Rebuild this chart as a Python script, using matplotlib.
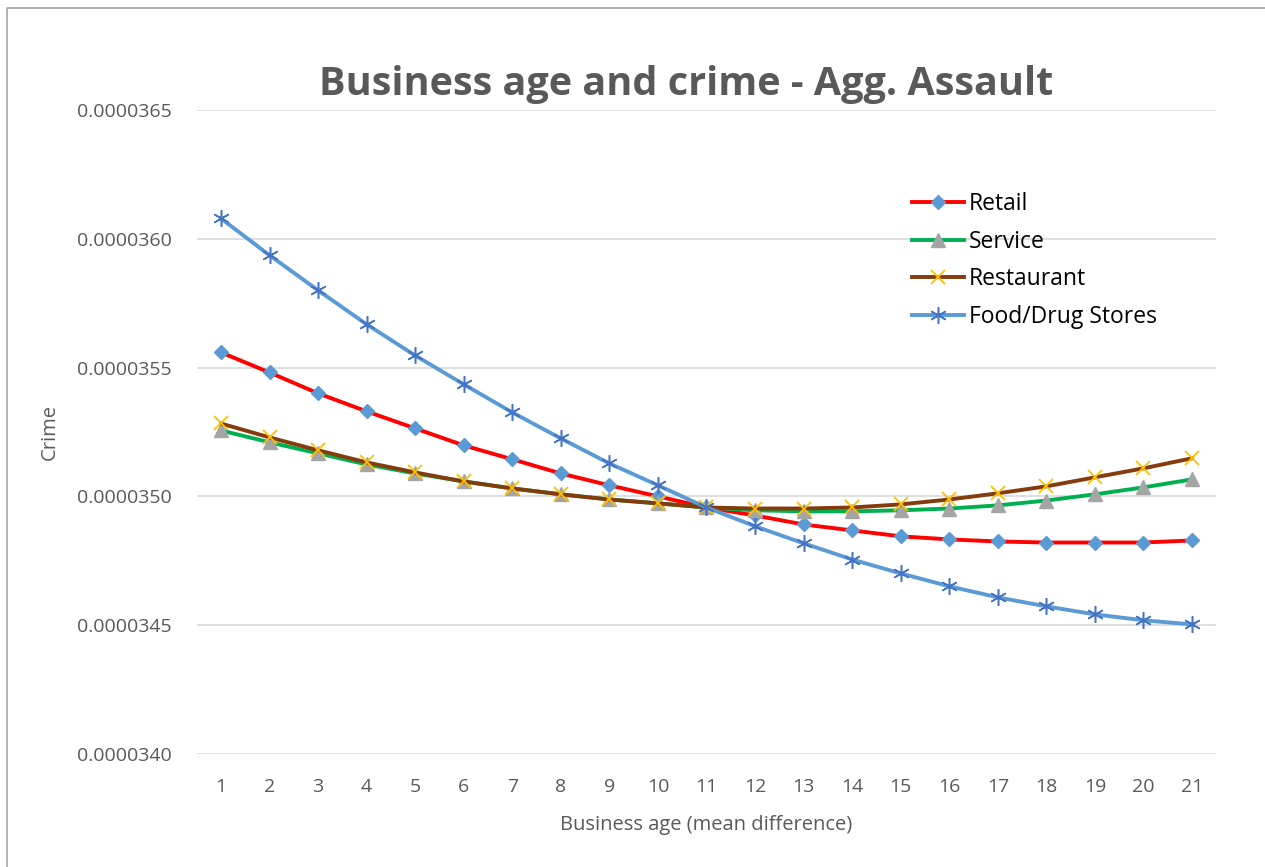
import numpy as np
import matplotlib.pyplot as plt
from matplotlib.lines import Line2D
from matplotlib.ticker import FuncFormatter

# business age (mean difference)
ages = list(range(1, 22))

# crime values, in units of 1e-6
retail = [35.559, 35.481, 35.400, 35.330, 35.264, 35.198, 35.144, 35.089, 35.043, 35.000,
          34.957, 34.926, 34.891, 34.868, 34.845, 34.833, 34.825, 34.821, 34.821, 34.821, 34.829]
service = [35.256, 35.210, 35.167, 35.124, 35.089, 35.058, 35.031, 35.008, 34.988, 34.973,
           34.957, 34.946, 34.942, 34.942, 34.946, 34.953, 34.965, 34.984, 35.008, 35.035, 35.066]
restaurant = [35.283, 35.229, 35.179, 35.132, 35.093, 35.058, 35.031, 35.008, 34.988, 34.973,
              34.957, 34.953, 34.953, 34.957, 34.969, 34.988, 35.012, 35.039, 35.074, 35.109, 35.148]
food_drug = [36.079, 35.936, 35.800, 35.668, 35.547, 35.435, 35.326, 35.225, 35.128, 35.043,
             34.957, 34.884, 34.818, 34.755, 34.701, 34.651, 34.608, 34.573, 34.542, 34.519, 34.503]

yticks = [34.0, 34.5, 35.0, 35.5, 36.0, 36.5]

fig = plt.figure(figsize=(12.65, 8.67), dpi=100)
plt.rcParams['font.family'] = ['Open Sans', 'DejaVu Sans']
ax = fig.add_axes([196.7 / 1265, 1 - 754 / 867, (1216.3 - 196.7) / 1265, (754 - 110) / 867])

# chart frame (only left and top edges are visible)
fx, fy = 7.5 / 1265, 1 - 7.5 / 867
fig.lines.append(Line2D([fx, fx, 1], [0, fy, fy], transform=fig.transFigure,
                        color='#A6A6A6', lw=1.2))

scale = 1e-6
ax.plot(ages, np.array(retail) * scale, color='#FF0000', lw=2.8, marker='D', ms=7.5,
        mfc='#5B9BD5', mec='#5B9BD5', label='Retail')
ax.plot(ages, np.array(service) * scale, color='#00B050', lw=2.8, marker='^', ms=9.5,
        mfc='#A5A5A5', mec='#A5A5A5', label='Service')
ax.plot(ages, np.array(restaurant) * scale, color='#843C0C', lw=2.8, marker='x', ms=10,
        mew=1.3, mfc='#FFC000', mec='#FFC000', label='Restaurant')
ax.plot(ages, np.array(food_drug) * scale, color='#5B9BD5', lw=2.8, marker=(6, 2, 0), ms=12,
        mew=1.1, mfc='#4472C4', mec='#4472C4', label='Food/Drug Stores')

ax.set_xlim(0.5, 21.5)
ax.set_ylim(yticks[0] * scale, yticks[-1] * scale)
ax.set_xticks(ages)
ax.set_yticks(np.array(yticks) * scale)
ax.yaxis.set_major_formatter(FuncFormatter(lambda v, p: '{:.7f}'.format(v)))
ax.grid(axis='y', color='#D9D9D9', lw=1.2)
ax.set_axisbelow(True)
for s in ax.spines.values():
    s.set_visible(False)
ax.tick_params(length=0, labelsize=14, labelcolor='#595959')
ax.tick_params(axis='x', pad=17)
ax.tick_params(axis='y', pad=18)

ax.set_xlabel('Business age (mean difference)', fontsize=14.5, color='#595959', labelpad=14)
ax.set_ylabel('Crime', fontsize=14.5, color='#595959', labelpad=12)
fig.text(686 / 1265, 1 - 84 / 867, 'Business age and crime - Agg. Assault', ha='center',
         va='center', fontsize=28.5, fontweight='bold', color='#595959')

ax.legend(loc='upper left', bbox_to_anchor=(0.681, 0.905), frameon=False, fontsize=16.5,
          handlelength=2.3, handletextpad=0.2, labelspacing=0.6, numpoints=1)

fig.savefig('out.png', dpi=100)
